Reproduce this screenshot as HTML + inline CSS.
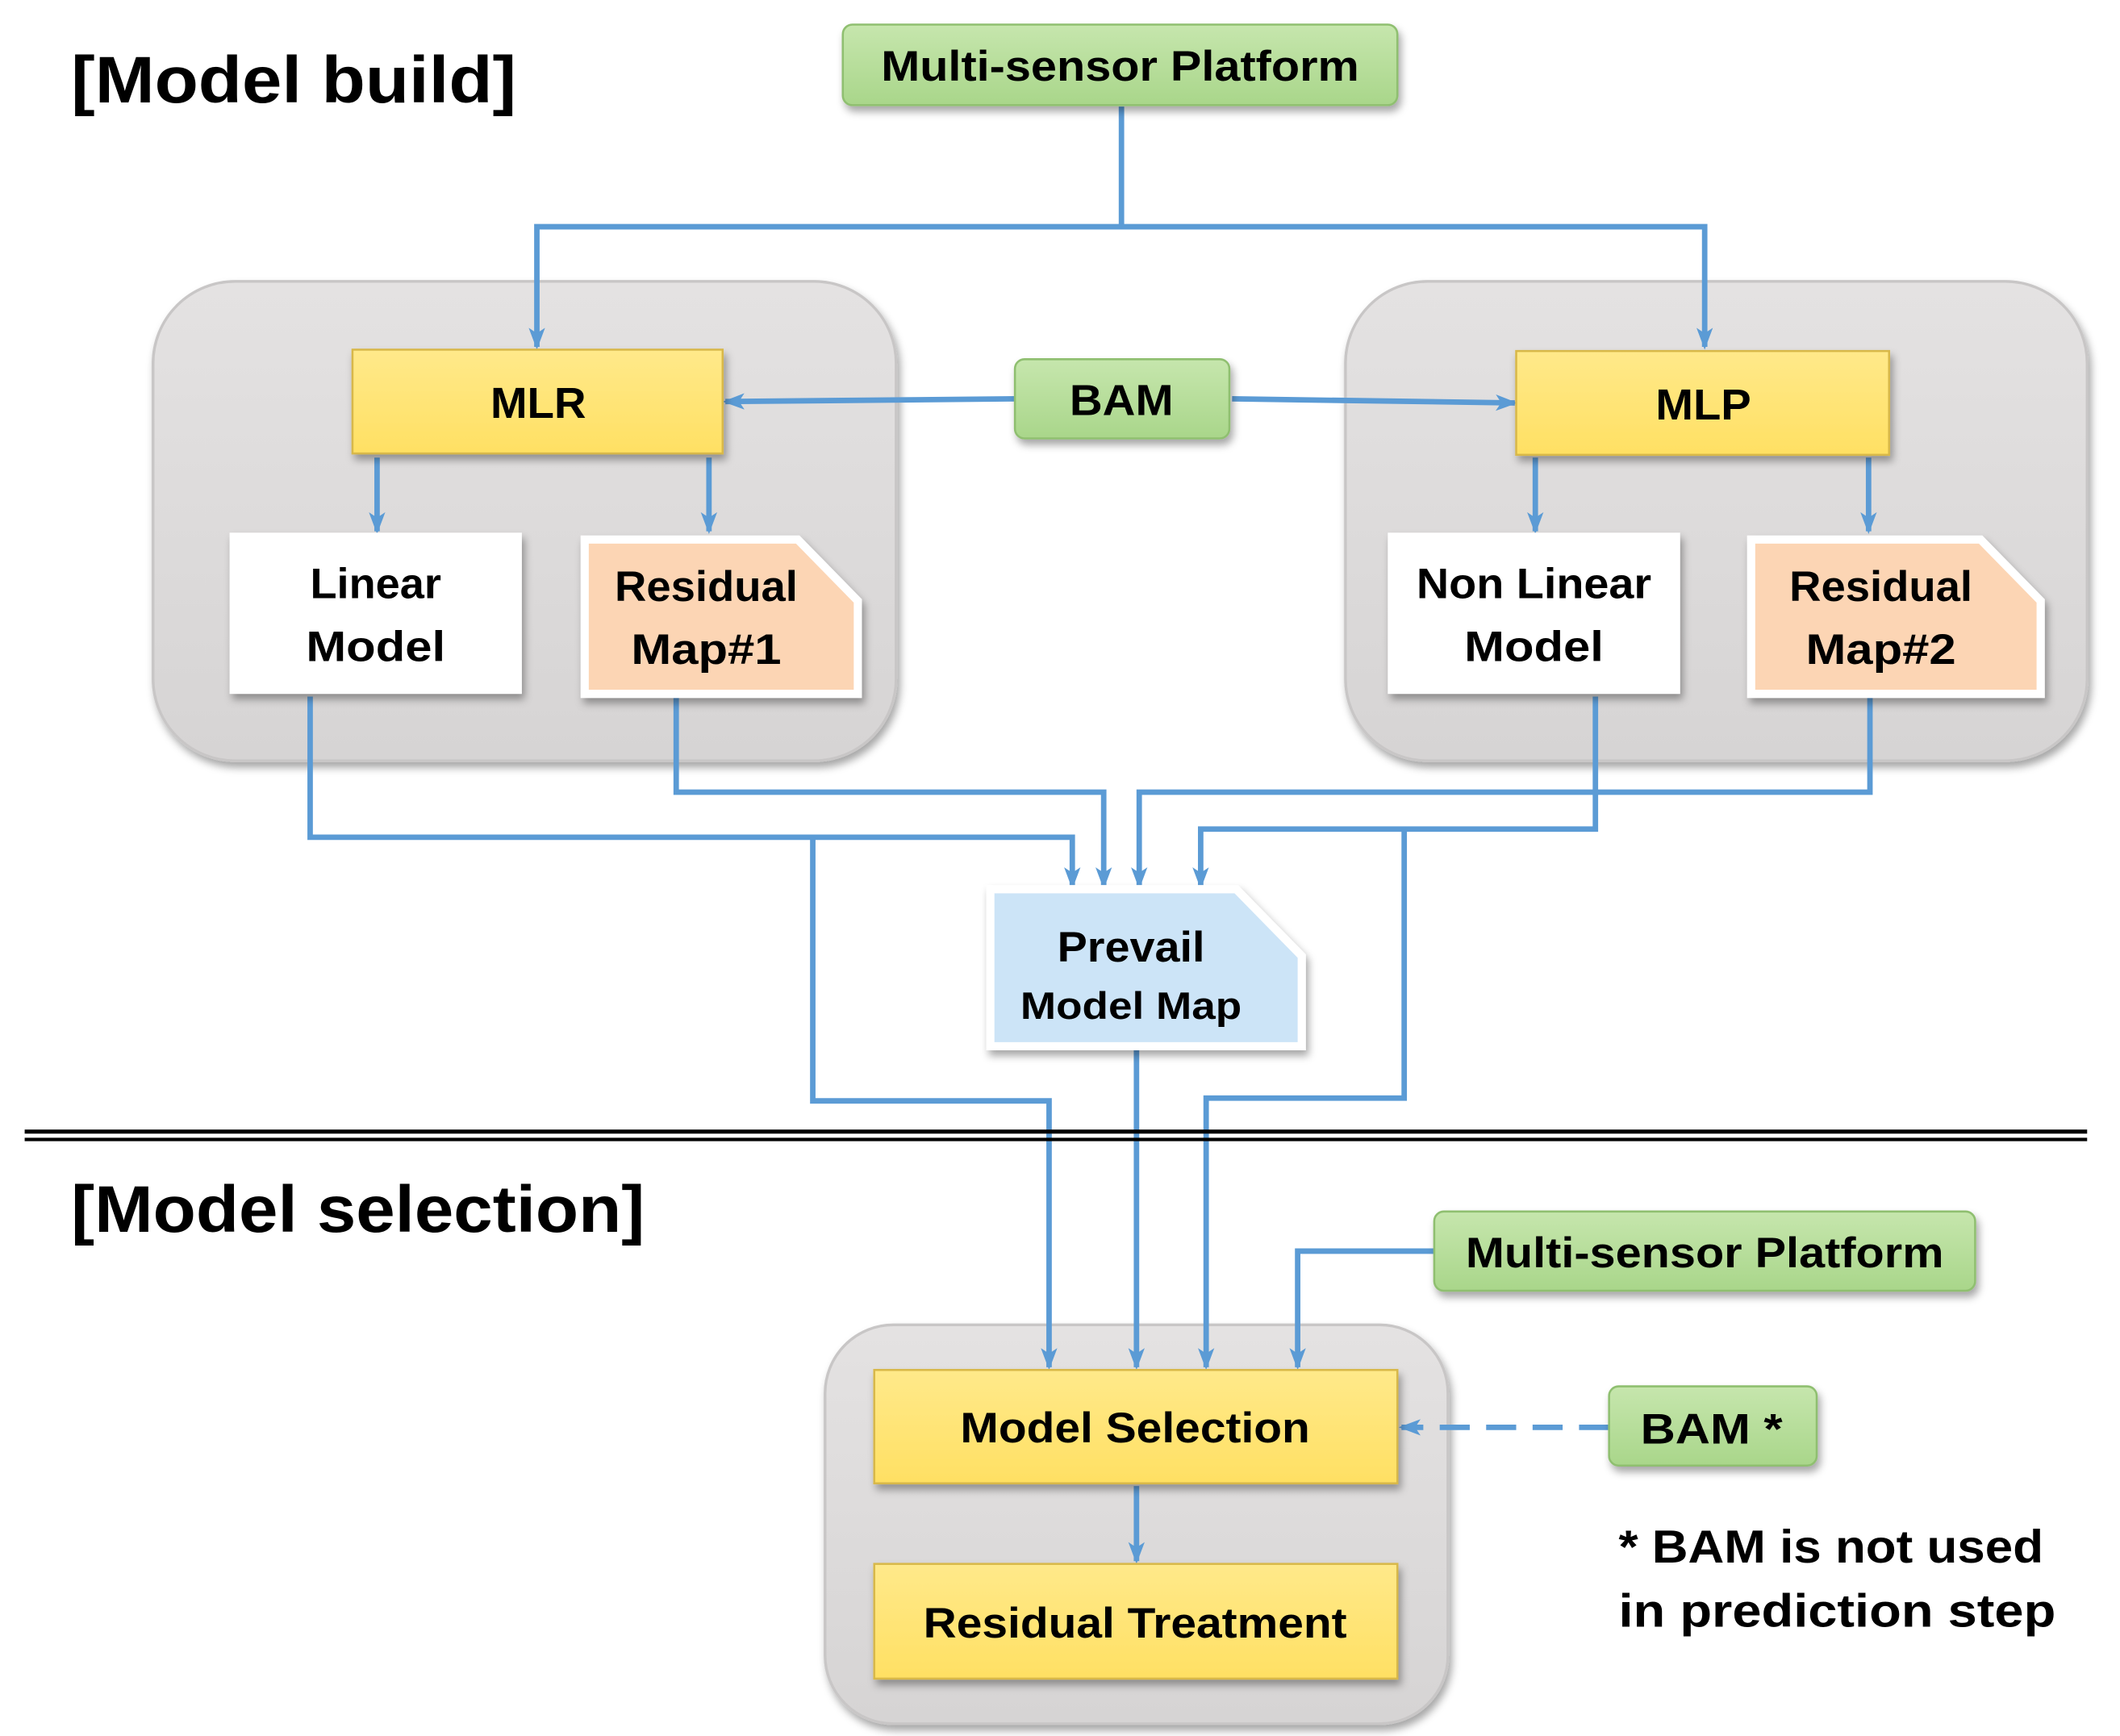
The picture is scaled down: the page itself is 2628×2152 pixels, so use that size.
<!DOCTYPE html>
<html><head><meta charset="utf-8"><style>html,body{margin:0;padding:0;background:#fff}svg{display:block}</style></head>
<body>
<svg width="2628" height="2152" viewBox="0 0 1552 1271" xmlns="http://www.w3.org/2000/svg" font-family="Liberation Sans, sans-serif" font-weight="bold">
<defs>
<linearGradient id="gr" x1="0" y1="0" x2="0" y2="1"><stop offset="0" stop-color="#c6e6ad"/><stop offset="1" stop-color="#a9d68a"/></linearGradient>
<linearGradient id="ye" x1="0" y1="0" x2="0" y2="1"><stop offset="0" stop-color="#ffe98a"/><stop offset="1" stop-color="#ffe063"/></linearGradient>
<linearGradient id="gy" x1="0" y1="0" x2="0" y2="1"><stop offset="0" stop-color="#e4e2e2"/><stop offset="1" stop-color="#d6d4d4"/></linearGradient>
<filter id="sh" x="-10%" y="-10%" width="130%" height="140%"><feDropShadow dx="2" dy="4" stdDeviation="3" flood-color="#000" flood-opacity="0.35"/></filter>
<marker id="ar" markerWidth="16" markerHeight="12" refX="14" refY="6" orient="auto" markerUnits="userSpaceOnUse"><path d="M0,0 L16,6 L0,12 L4,6 z" fill="#5b9bd5"/></marker>
</defs>
<rect x="112" y="206" width="544" height="351" rx="60" fill="url(#gy)" stroke="#c8c6c6" stroke-width="2" filter="url(#sh)"/>
<rect x="985" y="206" width="543" height="351" rx="60" fill="url(#gy)" stroke="#c8c6c6" stroke-width="2" filter="url(#sh)"/>
<rect x="604" y="970" width="456" height="292" rx="50" fill="url(#gy)" stroke="#c8c6c6" stroke-width="2" filter="url(#sh)"/>

<g fill="none" stroke="#5b9bd5" stroke-width="4">
<path d="M821,78 V166 H393 V254" marker-end="url(#ar)"/>
<path d="M821,166 H1248 V254" marker-end="url(#ar)"/>
<path d="M743,292 L531,294" marker-end="url(#ar)"/>
<path d="M902,292 L1109,295" marker-end="url(#ar)"/>
<path d="M276,335 V389" marker-end="url(#ar)"/>
<path d="M519,335 V389" marker-end="url(#ar)"/>
<path d="M1124,335 V389" marker-end="url(#ar)"/>
<path d="M1368,335 V389" marker-end="url(#ar)"/>
<path d="M227,510 V613 H785 V649" marker-end="url(#ar)"/>
<path d="M595,613 V806 H768 V1001" marker-end="url(#ar)"/>
<path d="M495,510 V580 H808 V649" marker-end="url(#ar)"/>
<path d="M1369,510 V580 H834 V649" marker-end="url(#ar)"/>
<path d="M1168,510 V607 H879 V649" marker-end="url(#ar)"/>
<path d="M1028,607 V804 H883 V1001" marker-end="url(#ar)"/>
<path d="M832,768 V1001" marker-end="url(#ar)"/>
<path d="M1050,916 H950 V1001" marker-end="url(#ar)"/>
<path d="M832,1088 V1143" marker-end="url(#ar)"/>
<path d="M1178,1045 H1026" stroke-dasharray="22,12" marker-end="url(#ar)"/>
</g>

<rect x="18" y="827" width="1510" height="3" fill="#000"/>
<rect x="18" y="833" width="1510" height="2.5" fill="#000"/>

<rect x="617" y="18" width="406" height="59" rx="7" fill="url(#gr)" stroke="#8fbf6f" stroke-width="1.5" filter="url(#sh)"/>
<rect x="743" y="263" width="157" height="58" rx="7" fill="url(#gr)" stroke="#8fbf6f" stroke-width="1.5" filter="url(#sh)"/>
<rect x="1050" y="887" width="396" height="58" rx="7" fill="url(#gr)" stroke="#8fbf6f" stroke-width="1.5" filter="url(#sh)"/>
<rect x="1178" y="1015" width="152" height="58" rx="7" fill="url(#gr)" stroke="#8fbf6f" stroke-width="1.5" filter="url(#sh)"/>

<rect x="258" y="256" width="271" height="76" fill="url(#ye)" stroke="#d8b84a" stroke-width="1.5" filter="url(#sh)"/>
<rect x="1110" y="257" width="273" height="76" fill="url(#ye)" stroke="#d8b84a" stroke-width="1.5" filter="url(#sh)"/>
<rect x="640" y="1003" width="383" height="83" fill="url(#ye)" stroke="#d8b84a" stroke-width="1.5" filter="url(#sh)"/>
<rect x="640" y="1145" width="383" height="84" fill="url(#ye)" stroke="#d8b84a" stroke-width="1.5" filter="url(#sh)"/>

<rect x="168" y="390" width="214" height="118" fill="#fff" filter="url(#sh)"/>
<rect x="1016" y="390" width="214" height="118" fill="#fff" filter="url(#sh)"/>

<path d="M428,395 H584 L628,440 V508 H428 Z" fill="#fcd5b4" stroke="#fff" stroke-width="6" filter="url(#sh)"/>
<path d="M1282,395 H1450 L1494,440 V508 H1282 Z" fill="#fcd5b4" stroke="#fff" stroke-width="6" filter="url(#sh)"/>
<path d="M725,651 H905 L953,700 V766 H725 Z" fill="#cce4f7" stroke="#fff" stroke-width="6" filter="url(#sh)"/>

<g fill="#000" text-anchor="middle">
<text x="820" y="59" font-size="31" textLength="350" lengthAdjust="spacingAndGlyphs">Multi-sensor Platform</text>
<text x="821" y="304" font-size="32" textLength="76" lengthAdjust="spacingAndGlyphs">BAM</text>
<text x="394" y="306" font-size="32" textLength="70" lengthAdjust="spacingAndGlyphs">MLR</text>
<text x="1247" y="307" font-size="32" textLength="70" lengthAdjust="spacingAndGlyphs">MLP</text>
<text x="275" y="438" font-size="31" textLength="96" lengthAdjust="spacingAndGlyphs">Linear</text>
<text x="275" y="484" font-size="31" textLength="102" lengthAdjust="spacingAndGlyphs">Model</text>
<text x="517" y="440" font-size="31" textLength="134" lengthAdjust="spacingAndGlyphs">Residual</text>
<text x="517" y="486" font-size="31" textLength="110" lengthAdjust="spacingAndGlyphs">Map#1</text>
<text x="1123" y="438" font-size="31" textLength="172" lengthAdjust="spacingAndGlyphs">Non Linear</text>
<text x="1123" y="484" font-size="31" textLength="102" lengthAdjust="spacingAndGlyphs">Model</text>
<text x="1377" y="440" font-size="31" textLength="134" lengthAdjust="spacingAndGlyphs">Residual</text>
<text x="1377" y="486" font-size="31" textLength="110" lengthAdjust="spacingAndGlyphs">Map#2</text>
<text x="828" y="704" font-size="31" textLength="108" lengthAdjust="spacingAndGlyphs">Prevail</text>
<text x="828" y="746" font-size="28" textLength="162" lengthAdjust="spacingAndGlyphs">Model Map</text>
<text x="1248" y="928" font-size="31" textLength="350" lengthAdjust="spacingAndGlyphs">Multi-sensor Platform</text>
<text x="831" y="1056" font-size="31" textLength="256" lengthAdjust="spacingAndGlyphs">Model Selection</text>
<text x="831" y="1199" font-size="31" textLength="310" lengthAdjust="spacingAndGlyphs">Residual Treatment</text>
</g>
<text x="1201" y="1057" font-size="31" textLength="104" lengthAdjust="spacingAndGlyphs">BAM *</text>
<text x="52" y="75" font-size="48" textLength="326" lengthAdjust="spacingAndGlyphs" style="font-weight:600">[Model build]</text>
<text x="52" y="902" font-size="48" textLength="420" lengthAdjust="spacingAndGlyphs" style="font-weight:600">[Model selection]</text>
<text x="1185" y="1144" font-size="34" textLength="311" lengthAdjust="spacingAndGlyphs">* BAM is not used</text>
<text x="1185" y="1191" font-size="34" textLength="320" lengthAdjust="spacingAndGlyphs">in prediction step</text>
</svg>
</body></html>
